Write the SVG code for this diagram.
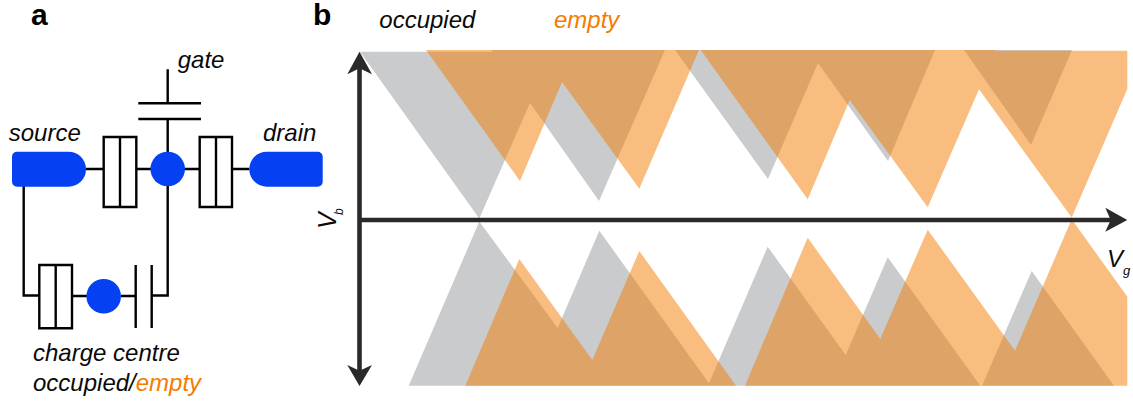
<svg xmlns="http://www.w3.org/2000/svg" width="1133" height="405" viewBox="0 0 1133 405">
<style>
text{font-family:"Liberation Sans",Arial,sans-serif;fill:#0a0a0a}
.i{font-style:italic;font-size:24px}
.h{font-weight:bold;font-size:30px;fill:#000}
.o{fill:#F57C00}
.w{fill:none;stroke:#000;stroke-width:2.4}
.b{fill:#fff;stroke:#000;stroke-width:2.4}
.blue{fill:#0541F2}
.gray{fill:#C9CBCD}
.orange{fill:#F37B00;fill-opacity:.5}
.axis{fill:none;stroke:#2B292A;stroke-width:4.6}
.head{fill:#2B292A}
</style>
<rect width="1133" height="405" fill="#fff"/>
<text class="h" x="31" y="25">a</text>
<text class="h" x="313" y="25">b</text>

<g id="connectors">
<path class="w" d="M167.7 69.3V103.3M167.7 119V295.5H151.7M86 169H103.7M136.3 169H199.7M232 169H249.3M23.7 186V295.5H39.3M72 296H87M121 296H135.7"/>
</g>
<g id="gate">
<path class="w" d="M138.3 103.3H201M138.3 119H201"/>
<text class="i" x="177.7" y="68.3">gate</text>
</g>
<g id="source">
<path class="blue" d="M17 151.7H68.5A17.5 17.5 0 0 1 68.5 186.7H17A5 5 0 0 1 12 181.7V156.7A5 5 0 0 1 17 151.7Z"/>
<text class="i" x="8.7" y="140.7">source</text>
</g>
<g id="drain">
<path class="blue" d="M317.7 151.7H266.8A17.5 17.5 0 0 0 266.8 186.7H317.7A5 5 0 0 0 322.7 181.7V156.7A5 5 0 0 0 317.7 151.7Z"/>
<text class="i" x="263" y="140.7">drain</text>
</g>
<g id="junction-left">
<path class="b" d="M103.7 137H136.3V207H103.7ZM120 137V207"/>
</g>
<g id="junction-right">
<path class="b" d="M199.7 137H232V207H199.7ZM216 137V207"/>
</g>
<g id="island"><circle class="blue" cx="167.7" cy="169" r="17.3"/></g>
<g id="junction-lower">
<path class="b" d="M39.3 265H72V328.3H39.3ZM55.7 265V328.3"/>
</g>
<g id="charge-centre">
<circle class="blue" cx="103.7" cy="296.3" r="17.3"/>
<text class="i" x="33" y="360.7">charge centre</text>
<text class="i" x="33" y="390.7">occupied/<tspan class="o">empty</tspan></text>
</g>
<g id="capacitor-lower">
<path class="w" d="M135.7 265V328M151.7 265V328"/>
</g>

<g id="diagram-b">
<path class="gray" d="M360 51.7L492 51.7V50H665L599 201L530 103L479.3 218.5ZM675 50H935L888 161L818 63L768 179ZM964 50H1072L1031 145Z"/>
<path class="gray" d="M408.7 385.7L479.3 221.5L557.7 328L599.3 230.7L709 383.3L767.7 246.7L845.7 355L887.7 257.3L980.3 385.7H982L1031.7 271L1114 385.7Z"/>
<path class="orange" d="M426 50L520 181L562 82L639.3 188.7L699 50H700.7L807.7 199.3L849.7 100L927.7 207.3L979 89.3L1071.7 217.5L1127.3 89V50.8H995V50Z"/>
<path class="orange" d="M465.3 385.7L519.3 259L592.3 360L639.3 251L736 385.7H745L807.7 237.7L880.3 339L927.7 229.7L1015 350.7L1071.7 219.3L1127.3 296.7V385.7Z"/>
<path class="axis" d="M359.5 68V372M357.2 220H1112"/>
<path class="head" d="M359.5 51.7L372 74.3L359.5 68.3L347.3 74.3Z"/>
<path class="head" d="M359.5 386L347.3 365L359.5 370.7L372 365Z"/>
<path class="head" d="M1127.3 220L1105.3 231.7L1110.7 220L1105.3 207.7Z"/>
<text class="i" x="379.3" y="28.3">occupied</text>
<text class="i o" x="554" y="28.3">empty</text>
<text style="font-style:italic;font-size:25px" transform="translate(335.5 229) rotate(-90)">V<tspan dx="-2.7" dy="7.8" style="font-size:12px">b</tspan></text>
<text style="font-style:italic;font-size:24px" x="1107" y="267.3">V<tspan dy="8" style="font-size:13px">g</tspan></text>
</g>
</svg>
